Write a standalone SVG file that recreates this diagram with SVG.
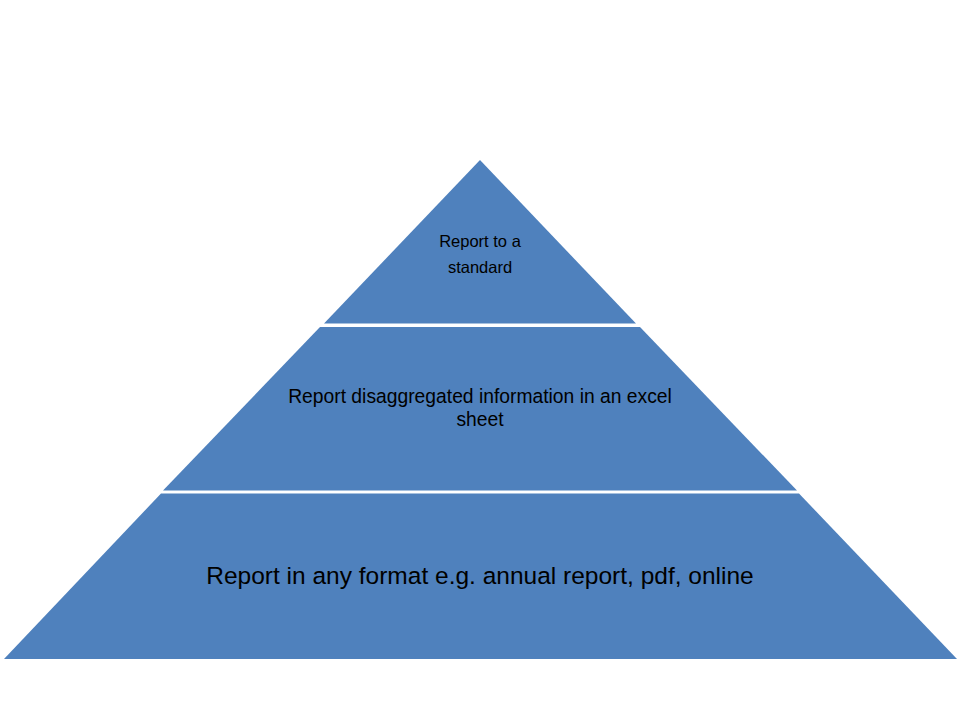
<svg xmlns="http://www.w3.org/2000/svg" width="960" height="720" viewBox="0 0 960 720">
<style>
.tier{fill:#4F81BD;}
.lbl{font-family:"Liberation Sans","Open Sans",sans-serif;fill:#000;text-anchor:middle;}
</style>
<rect width="960" height="720" fill="#fff"/>
<g id="tier-top">
<polygon class="tier" points="480,160 636,323.5 324,323.5"/>
<text class="lbl" x="480" y="247" font-size="16.5">Report to a</text>
<text class="lbl" x="480" y="273" font-size="16.5">standard</text>
</g>
<g id="tier-middle">
<polygon class="tier" points="320,327 640,327 797,490.5 163,490.5"/>
<text class="lbl" x="480" y="403" font-size="19.3">Report disaggregated information in an excel</text>
<text class="lbl" x="480" y="426" font-size="19.3">sheet</text>
</g>
<g id="tier-bottom">
<polygon class="tier" points="161,493.5 799,493.5 957,659 4,659"/>
<text class="lbl" x="480" y="584" font-size="24.5">Report in any format e.g. annual report, pdf, online</text>
</g>
<g id="connectors"></g>
</svg>
